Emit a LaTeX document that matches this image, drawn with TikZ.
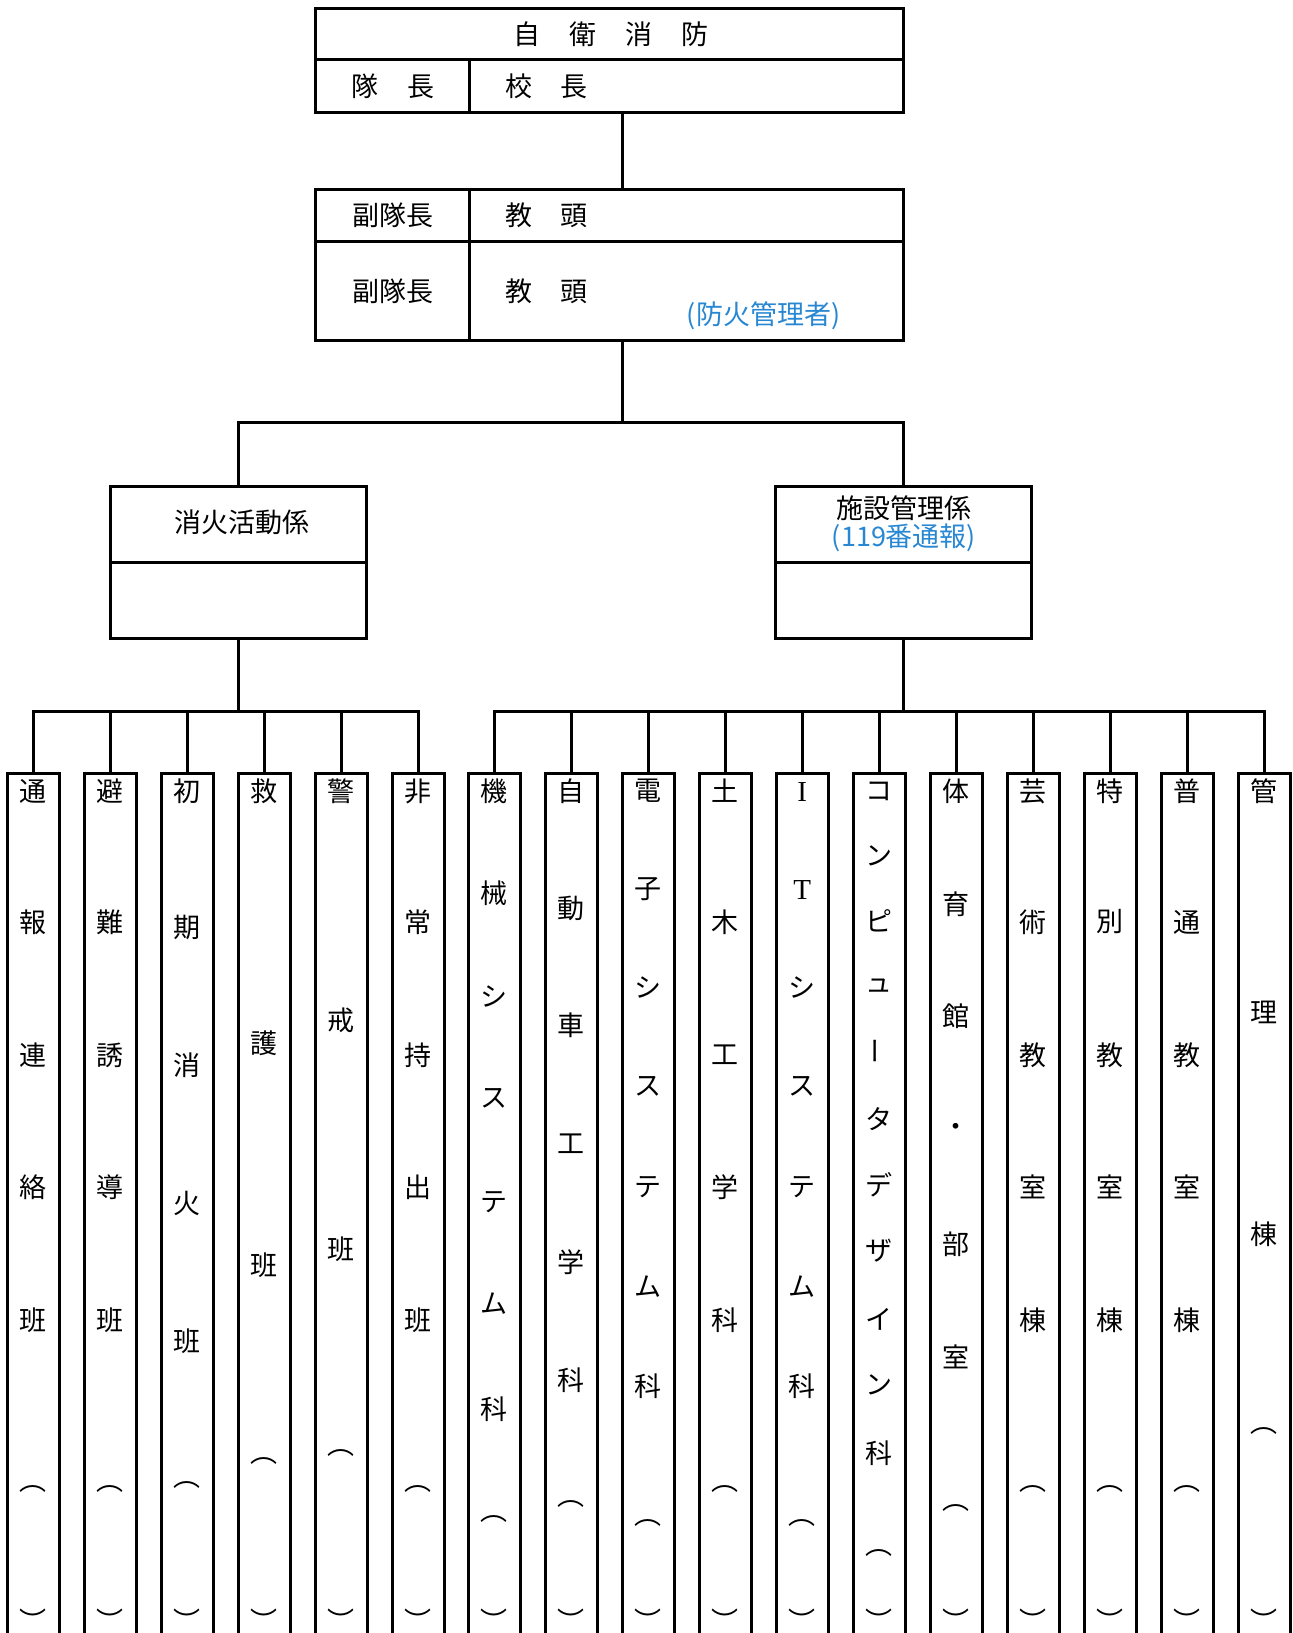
\documentclass[tikz,border=0pt]{standalone}
\usepackage{fontspec}
\setmainfont{Noto Sans CJK JP}
\newfontfamily\latinserif{Liberation Serif}
\definecolor{noteblue}{RGB}{40,135,210}
\newcommand\vbarchar{\rotatebox[origin=c]{90}{ー}}
\newcommand\latI{{\latinserif\fontsize{14.5}{16}\selectfont I}}
\newcommand\latT{{\latinserif\fontsize{14.5}{16}\selectfont T}}
\newcommand\mkcol[3]{%
  \node[colbox] (#1) at (#2,773.5) {};
  \foreach \ch/\yy [count=\k] in {#3} {\node[coltxt] (#1-\k) at (#2,\yy) {\ch};}
}
\begin{document}
\begin{tikzpicture}[x=0.5pt,y=-0.5pt,
  line width=1.5pt,
  box/.style={draw, rectangle, inner sep=0pt, outer sep=0pt, anchor=north west},
  colbox/.style={draw, rectangle, inner sep=0pt, outer sep=0pt, anchor=north,
    minimum width=25.75pt, minimum height=480pt},
  txt/.style={inner sep=0pt, font=\fontsize{13.5}{16}\selectfont},
  coltxt/.style={txt},
  note/.style={txt, text=noteblue}]
\useasboundingbox (0,0) rectangle (1293,1633);
\clip (0,0) rectangle (1293,1633);

% ---- top box
\node[box, minimum width=294.15pt, minimum height=52.05pt] (chief) at (315.4,8.3) {};
\draw (315.4,59.3) -- (903.7,59.3);
\draw (469.5,59.3) -- (469.5,112.4);
\node[txt] (t-jiei) at (611,34.4) {自\hspace{14.6pt}衛\hspace{14.6pt}消\hspace{14.6pt}防};
\node[txt] (t-taicho) at (393,86.4) {隊\hspace{14.3pt}長};
\node[txt] (t-kocho) at (546.6,86.4) {校\hspace{14.3pt}長};

% ---- second box
\node[box, minimum width=294.15pt, minimum height=75.45pt] (vice) at (315.4,189.5) {};
\draw (315.4,241.5) -- (903.7,241.5);
\draw (469.5,189.5) -- (469.5,340.4);
\node[txt] (t-fuku1) at (392.5,215.5) {副隊長};
\node[txt] (t-kyoto1) at (546.6,215.5) {教\hspace{14.3pt}頭};
\node[txt] (t-fuku2) at (392.5,291.5) {副隊長};
\node[txt] (t-kyoto2) at (546.6,291.5) {教\hspace{14.3pt}頭};
\node[note] (t-boka) at (763.6,315.5) {(防火管理者)};

% ---- section boxes
\node[box, minimum width=128.05pt, minimum height=76pt] (fire) at (110.4,486.2) {};
\draw (110.4,562.2) -- (366.5,562.2);
\node[txt] (t-fire) at (241.5,522.6) {消火活動係};
\node[box, minimum width=128.05pt, minimum height=76pt] (facil) at (775.6,486.2) {};
\draw (775.6,562.2) -- (1031.7,562.2);
\node[txt] (t-facil) at (904,508) {施設管理係};
\node[note] (t-119) at (904,538) {(119番通報)};

% ---- connectors upper
\coordinate (trunk) at (622.6,0);
\coordinate (bar1) at (0,422.7);
\coordinate (bar2) at (0,711.7);
\draw (chief.south -| trunk) -- (vice.north -| trunk);
\draw (vice.south -| trunk) -- (trunk |- bar1);
\draw (fire.north) -- (fire.north |- bar1) -- (facil.north |- bar1) -- (facil.north);

% ---- columns
\mkcol{c1}{33.3}{通/791, 報/922, 連/1055, 絡/1187, 班/1320, ︵/1489, ︶/1620}
\mkcol{c2}{110.3}{避/791, 難/922, 誘/1055, 導/1187, 班/1320, ︵/1489, ︶/1620}
\mkcol{c3}{187.3}{初/791, 期/927, 消/1065, 火/1203, 班/1341, ︵/1485, ︶/1620}
\mkcol{c4}{264.3}{救/791, 護/1043, 班/1265, ︵/1461, ︶/1620}
\mkcol{c5}{341.3}{警/791, 戒/1020, 班/1249, ︵/1453, ︶/1620}
\mkcol{c6}{418.3}{非/791, 常/922, 持/1055, 出/1187, 班/1320, ︵/1489, ︶/1620}
\mkcol{c7}{494.3}{機/791, 械/893, シ/996, ス/1098, テ/1202, ム/1304, 科/1409, ︵/1519, ︶/1620}
\mkcol{c8}{571.3}{自/791, 動/908, 車/1025, 工/1144, 学/1262, 科/1380, ︵/1504, ︶/1620}
\mkcol{c9}{648.3}{電/791, 子/889, シ/987, ス/1086, テ/1187, ム/1287, 科/1386, ︵/1523, ︶/1620}
\mkcol{c10}{725.3}{土/791, 木/922, 工/1055, 学/1187, 科/1320, ︵/1489, ︶/1620}
\mkcol{c11}{802.3}{\latI/792, \latT/890, シ/987, ス/1086, テ/1187, ム/1287, 科/1386, ︵/1523, ︶/1620}
\mkcol{c12}{879.3}{コ/791, ン/856, ピ/921, ュ/986, \vbarchar/1051, タ/1119, デ/1185, ザ/1251, イ/1319, ン/1385, 科/1453, ︵/1553, ︶/1620}
\mkcol{c13}{956.3}{体/791, 育/904, 館/1016, ・/1130, 部/1244, 室/1357, ︵/1508, ︶/1620}
\mkcol{c14}{1033.3}{芸/791, 術/922, 教/1055, 室/1187, 棟/1320, ︵/1489, ︶/1620}
\mkcol{c15}{1110.3}{特/791, 別/922, 教/1055, 室/1187, 棟/1320, ︵/1489, ︶/1620}
\mkcol{c16}{1187.3}{普/791, 通/922, 教/1055, 室/1187, 棟/1320, ︵/1489, ︶/1620}
\mkcol{c17}{1264.3}{管/791, 理/1012, 棟/1234, ︵/1431, ︶/1620}

% ---- connectors lower
\draw (fire.south) -- (fire.south |- bar2);
\draw (c1.north) -- (c1.north |- bar2) -- (c6.north |- bar2) -- (c6.north);
\foreach \i in {2,...,5} {\draw (c\i.north) -- (c\i.north |- bar2);}
\draw (facil.south) -- (facil.south |- bar2);
\draw (c7.north) -- (c7.north |- bar2) -- (c17.north |- bar2) -- (c17.north);
\foreach \i in {8,...,16} {\draw (c\i.north) -- (c\i.north |- bar2);}
\end{tikzpicture}
\end{document}
